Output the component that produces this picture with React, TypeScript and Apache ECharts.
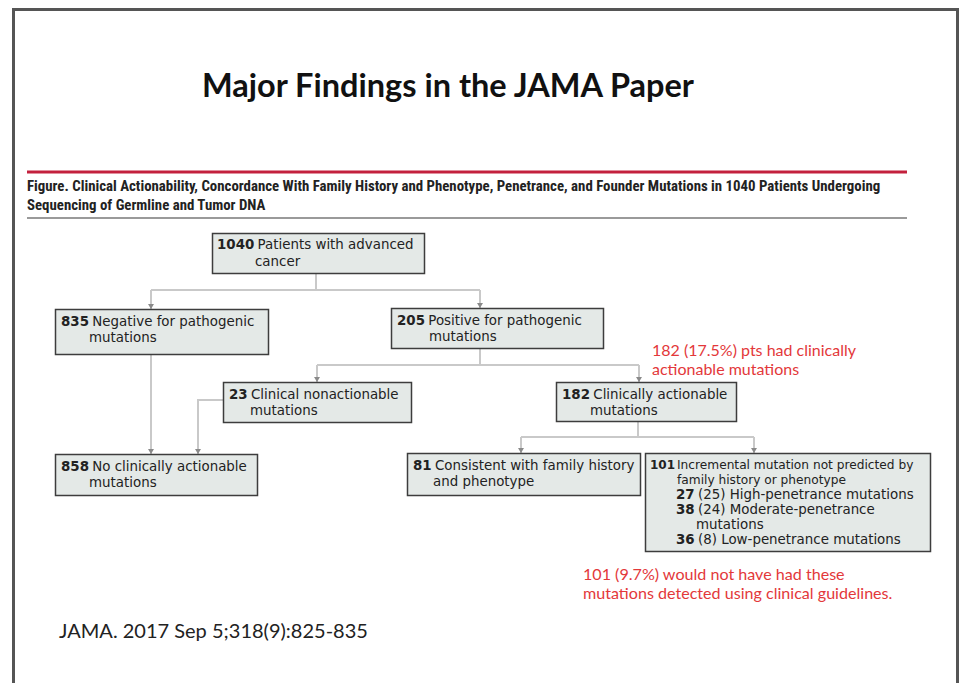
import React, { useEffect, useRef } from "react";
import * as echarts from "echarts";

// ---- content ----
const titleText = "Major Findings in the JAMA Paper";
const captionLines = [
  "Figure. Clinical Actionability, Concordance With Family History and Phenotype, Penetrance, and Founder Mutations in 1040 Patients Undergoing",
  "Sequencing of Germline and Tumor DNA",
];
const nodeCounts = ["1040", "835", "205", "23", "182", "858", "81", "101"];
const nodeFirstLines = [
  "Patients with advanced",
  "Negative for pathogenic",
  "Positive for pathogenic",
  "Clinical nonactionable",
  "Clinically actionable",
  "No clinically actionable",
  "Consistent with family history",
  "Incremental mutation not predicted by",
];
const nodeSecondLines = [
  "cancer",
  "mutations",
  "mutations",
  "mutations",
  "mutations",
  "mutations",
  "and phenotype",
  "family history or phenotype",
];
const subCounts = ["27", "38", "36"];
const subFounderCounts = ["(25)", "(24)", "(8)"];
const subLabels = ["High-penetrance mutations", "Moderate-penetrance", "Low-penetrance mutations"];
const subContinuation = "mutations";
const noteActionable = ["182 (17.5%) pts had clinically", "actionable mutations"];
const noteIncremental = ["101 (9.7%) would not have had these", "mutations detected using clinical guidelines."];
const citation = "JAMA. 2017 Sep 5;318(9):825-835";

// ---- layout ----
const boxRects = [
  [212, 233, 212, 40],
  [55, 309, 213, 45],
  [391, 308, 212, 40],
  [223, 382, 188, 40],
  [556, 382, 180, 39],
  [55, 454, 202, 41],
  [407, 453, 233, 42],
  [645, 453, 285, 98],
];
const line1Pos = [
  [217, 244], [61, 321], [397, 320], [229, 394], [562, 394], [61, 466], [413, 465], [650, 465],
];
const line2Pos = [
  [255, 261], [89, 337], [429, 336], [250, 410], [590, 410], [89, 482], [433, 481], [677, 480],
];
const subPos = [[676, 494], [676, 509], [676, 539]];
const subContPos = [696, 524];

const connectors = [
  [[316, 273], [316, 290]],
  [[151, 290], [480, 290]],
  [[151, 290], [151, 309]],
  [[480, 290], [480, 308]],
  [[151, 354], [151, 454]],
  [[480, 348], [480, 365]],
  [[317, 365], [639, 365]],
  [[317, 365], [317, 382]],
  [[639, 365], [639, 382]],
  [[223, 400], [198, 400], [198, 454]],
  [[638, 421], [638, 437]],
  [[521, 437], [754, 437]],
  [[521, 437], [521, 453]],
  [[754, 437], [754, 453]],
];
const arrowTips = [[151, 309], [480, 308], [151, 454], [317, 382], [639, 382], [198, 454], [521, 453], [754, 453]];

const BOX_FONT = "'DejaVu Sans', 'Open Sans', sans-serif";
const NOTE_FONT = "Lato, 'Open Sans', sans-serif";
const RED = "#e3383a";
const BOX_SIZE = 13.4;

export default function App() {
  const ref = useRef<HTMLDivElement>(null);
  useEffect(() => {
    if (!ref.current) return;
    const chart = echarts.init(ref.current, undefined, { renderer: "svg" });
    const g: any[] = [];

    // frame
    g.push({
      type: "rect",
      shape: { x: 13.5, y: 9.5, width: 944, height: 700 },
      style: { fill: "#fff", stroke: "#555", lineWidth: 3 },
    });
    // title
    g.push({
      type: "text",
      x: 448,
      y: 84,
      style: {
        text: titleText,
        fill: "#111",
        font: `bold 32.5px ${NOTE_FONT}`,
        align: "center",
        verticalAlign: "middle",
      },
    });
    // rules
    g.push({ type: "line", shape: { x1: 27, y1: 172, x2: 907, y2: 172 }, style: { stroke: "#c3203d", lineWidth: 3 } });
    g.push({ type: "line", shape: { x1: 27, y1: 218, x2: 907, y2: 218 }, style: { stroke: "#9a9a9a", lineWidth: 2 } });
    captionLines.forEach((t, i) => {
      g.push({
        type: "text",
        x: 27,
        y: 186 + i * 19,
        style: {
          text: t,
          fill: "#222",
          font: `bold 14.85px 'Liberation Sans Narrow', 'Roboto Condensed', Roboto, sans-serif`,
          align: "left",
          verticalAlign: "middle",
        },
      });
    });

    // connectors
    connectors.forEach((pts) => {
      g.push({
        type: "polyline",
        shape: { points: pts },
        style: { stroke: "#c9c9c9", lineWidth: 2, fill: "none" },
      });
    });
    arrowTips.forEach(([x, y]) => {
      g.push({
        type: "polygon",
        shape: { points: [[x - 3, y - 5], [x + 3, y - 5], [x, y]] },
        style: { fill: "#8a8a8a" },
      });
    });

    // boxes
    boxRects.forEach(([x, y, w, h]) => {
      g.push({
        type: "rect",
        shape: { x: x + 0.5, y: y + 0.5, width: w, height: h },
        style: { fill: "#e4e9e7", stroke: "#3d3d3d", lineWidth: 1.5 },
      });
    });

    const rich = {
      b: { fontFamily: BOX_FONT, fontWeight: "bold", fontSize: BOX_SIZE, fill: "#222", lineHeight: 14 },
      r: { fontFamily: BOX_FONT, fontWeight: "normal", fontSize: BOX_SIZE, fill: "#222", lineHeight: 14 },
    };

    nodeCounts.forEach((n, i) => {
      if (i === 7) {
        g.push({
          type: "text",
          x: line1Pos[i][0],
          y: line1Pos[i][1],
          style: { text: n, font: `bold 12px ${BOX_FONT}`, fill: "#222", verticalAlign: "middle" },
        });
        g.push({
          type: "text",
          x: 677,
          y: line1Pos[i][1],
          style: { text: nodeFirstLines[i], font: `12.2px ${BOX_FONT}`, fill: "#222", verticalAlign: "middle" },
        });
        g.push({
          type: "text",
          x: line2Pos[i][0],
          y: line2Pos[i][1],
          style: { text: nodeSecondLines[i], font: `12.2px ${BOX_FONT}`, fill: "#222", verticalAlign: "middle" },
        });
        return;
      }
      g.push({
        type: "text",
        x: line1Pos[i][0],
        y: line1Pos[i][1],
        style: { text: `{b|${n}} {r|${nodeFirstLines[i]}}`, rich, verticalAlign: "middle" },
      });
      g.push({
        type: "text",
        x: line2Pos[i][0],
        y: line2Pos[i][1],
        style: { text: nodeSecondLines[i], font: `${BOX_SIZE}px ${BOX_FONT}`, fill: "#222", verticalAlign: "middle" },
      });
    });

    subCounts.forEach((c, i) => {
      g.push({
        type: "text",
        x: subPos[i][0],
        y: subPos[i][1],
        style: { text: `{b|${c}} {r|${subFounderCounts[i]} ${subLabels[i]}}`, rich, verticalAlign: "middle" },
      });
    });
    g.push({
      type: "text",
      x: subContPos[0],
      y: subContPos[1],
      style: { text: subContinuation, font: `${BOX_SIZE}px ${BOX_FONT}`, fill: "#222", verticalAlign: "middle" },
    });

    // red notes
    noteActionable.forEach((t, i) => {
      g.push({
        type: "text",
        x: 652,
        y: 349 + i * 19,
        style: { text: t, font: `16px ${NOTE_FONT}`, fill: RED, verticalAlign: "middle" },
      });
    });
    noteIncremental.forEach((t, i) => {
      g.push({
        type: "text",
        x: 583,
        y: 573 + i * 19,
        style: { text: t, font: `16.1px ${NOTE_FONT}`, fill: RED, verticalAlign: "middle" },
      });
    });

    g.push({
      type: "text",
      x: 59,
      y: 630,
      style: { text: citation, font: `20px ${NOTE_FONT}`, fill: "#222", verticalAlign: "middle" },
    });

    chart.setOption({ animation: false, graphic: g });
    return () => chart.dispose();
  }, []);
  return (
    <div
      ref={ref}
      style={{ position: "fixed", left: 0, top: 0, width: 961, height: 683, background: "#fff" }}
    />
  );
}
